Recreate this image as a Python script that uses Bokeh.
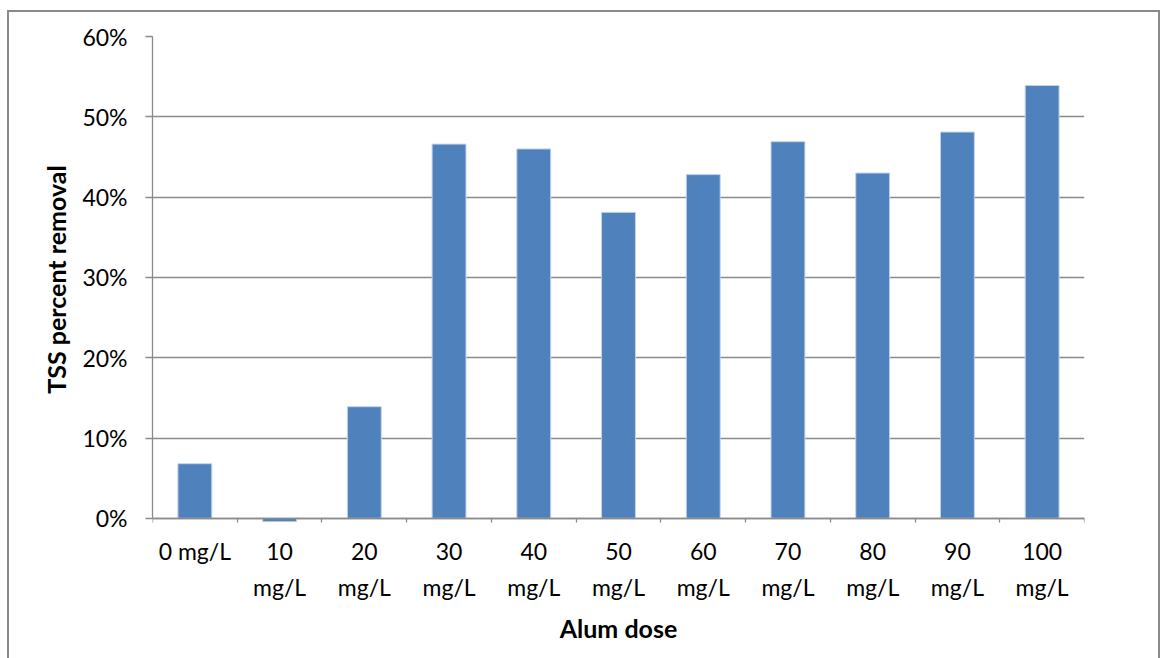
from bokeh.plotting import figure
from bokeh.models import (Range1d, FixedTicker, LinearAxis, NumeralTickFormatter,
                          ColumnDataSource)
from bokeh.embed import file_html
from bokeh.resources import INLINE

categories = ["0 mg/L", "10\nmg/L", "20\nmg/L", "30\nmg/L", "40\nmg/L", "50\nmg/L",
              "60\nmg/L", "70\nmg/L", "80\nmg/L", "90\nmg/L", "100\nmg/L"]
removal = [0.068, -0.0042, 0.139, 0.466, 0.460, 0.381, 0.428, 0.469, 0.430, 0.481, 0.539]
y_ticks = [0.0, 0.1, 0.2, 0.3, 0.4, 0.5, 0.6]

FONT = "Lato"
GRAY = "#8a8a8a"

n = len(categories)
centers = [i + 0.5 for i in range(n)]
bounds = list(range(n + 1))

p = figure(x_range=Range1d(0, n), y_range=Range1d(-0.0052, 0.6),
           frame_width=932, frame_height=486,
           min_border_left=152, min_border_right=81, min_border_top=36, min_border_bottom=136,
           output_backend="svg", toolbar_location=None, x_axis_location=None,
           y_axis_location=None)
p.outline_line_color = None
p.background_fill_color = "white"
p.border_fill_color = None
p.styles = {
    "background-color": "white",
    "background-image": ("linear-gradient(#8a8a8a,#8a8a8a), linear-gradient(#8a8a8a,#8a8a8a), "
                         "linear-gradient(#8a8a8a,#8a8a8a)"),
    "background-position": "7px 10px, 7px 10px, 1158px 10px",
    "background-size": "2px 100%, 1153px 2px, 2px 100%",
    "background-repeat": "no-repeat",
}

src = ColumnDataSource(dict(x=centers, val=removal, cat=categories))
p.vbar(x="x", top="val", bottom=0, width=0.4, source=src,
       fill_color="#4F81BD", line_color="#c3d3ea", line_width=1)

# grid
p.xgrid.visible = False
p.ygrid.ticker = FixedTicker(ticks=y_ticks)
p.ygrid.grid_line_color = GRAY
p.ygrid.grid_line_width = 1.3

# y axis
yax = LinearAxis(ticker=FixedTicker(ticks=y_ticks),
                 formatter=NumeralTickFormatter(format="0%"),
                 bounds=(0, 0.6))
yax.axis_label = "TSS percent removal"
yax.axis_label_text_font = FONT
yax.axis_label_text_font_style = "bold"
yax.axis_label_text_font_size = "25px"
yax.axis_label_text_color = "black"
yax.axis_label_standoff = 8
yax.major_label_text_font = FONT
yax.major_label_text_font_size = "23px"
yax.major_label_text_color = "black"
yax.major_label_standoff = 18
yax.major_tick_out = 7
yax.major_tick_in = 0
yax.minor_tick_line_color = None
yax.axis_line_color = GRAY
yax.axis_line_width = 1.3
yax.major_tick_line_color = GRAY
yax.major_tick_line_width = 1.3
p.add_layout(yax, "left")

# x axis line and boundary ticks at y = 0
tax = LinearAxis(ticker=FixedTicker(ticks=bounds))
tax.fixed_location = 0
tax.major_label_text_color = None
tax.major_label_text_font_size = "1px"
tax.major_label_standoff = 0
tax.major_tick_out = 8
tax.major_tick_in = 0
tax.minor_tick_line_color = None
tax.major_tick_line_color = GRAY
tax.major_tick_line_width = 1.3
tax.axis_line_color = GRAY
tax.axis_line_width = 1.3
p.add_layout(tax, "below")

# x axis labels (category names) and title
xax = LinearAxis(ticker=FixedTicker(ticks=centers),
                 major_label_overrides={c: lab for c, lab in zip(centers, categories)})
xax.axis_label = "Alum dose"
xax.axis_label_text_font = FONT
xax.axis_label_text_font_style = "bold"
xax.axis_label_text_font_size = "25px"
xax.axis_label_text_color = "black"
xax.axis_label_standoff = 9
xax.major_label_text_font = FONT
xax.major_label_text_font_size = "23px"
xax.major_label_text_color = "black"
xax.major_label_text_line_height = 1.3
xax.major_label_standoff = 14
xax.major_tick_out = 0
xax.major_tick_in = 0
xax.major_tick_line_color = None
xax.minor_tick_line_color = None
xax.axis_line_color = None
p.add_layout(xax, "below")

open("out.html", "w").write(file_html(p, INLINE))
